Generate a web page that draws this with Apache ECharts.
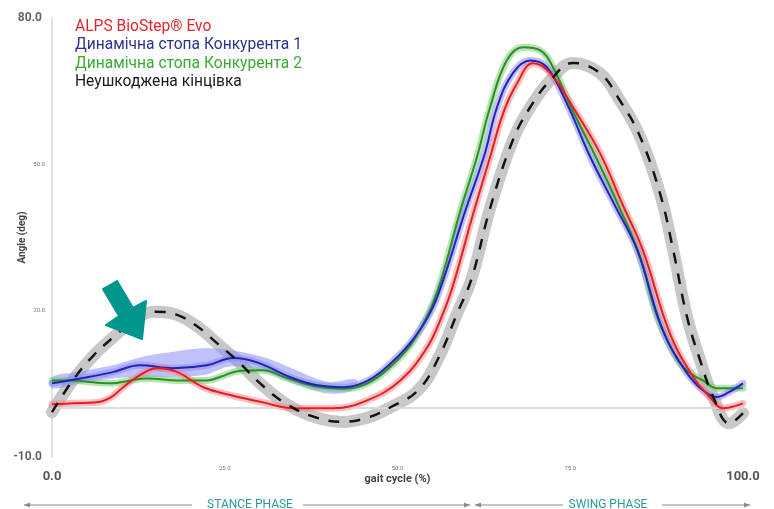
<!DOCTYPE html>
<html><head><meta charset="utf-8">
<script src="https://cdn.jsdelivr.net/npm/echarts@6/dist/echarts.min.js"></script>
<style>html,body{margin:0;padding:0;background:#fff}#c{width:774px;height:509px}</style>
</head><body><div id="c"></div>
<script>
// ---- data ----
const seriesNames = ['ALPS BioStep® Evo', 'Динамічна стопа Конкурента 1', 'Динамічна стопа Конкурента 2', 'Неушкоджена кінцівка'];
const xAxisName = 'gait cycle (%)';
const yAxisName = 'Angle (deg)';
const phaseLabels = ['STANCE PHASE', 'SWING PHASE'];

const alpsX = [0,3,6.5,8.5,10.3,12.5,15.2,18,21.9,25.8,30.5,35,40.7,45.6,50.4,54.3,56.6,58,60.9,63.4,65.3,67.3,69.6,72.1,75.4,79.3,82.5,85.5,89.4,92.8,95.2,97.1,100];
const alpsY = [0.8,1,1.2,2.2,4.3,6.6,8.2,7.5,4.3,2.7,1.2,0,0,1.6,5.7,12.5,19.5,25,39.6,51.5,60.5,66.6,70.7,68.7,61.7,52.3,42,32.4,15.4,6.4,2.3,0,1];

const comp1X = [0,4.1,8.8,12.7,17.5,22.4,26.2,29.7,34.4,38,42.1,45,47.9,51.8,54.7,56.6,59.7,62.6,64.4,66.7,69.2,71.6,74.5,77.9,81.3,84.7,88.4,91.9,94.2,96.2,97.7,100];
const comp1Y = [5.1,6.1,7.4,8.8,8.2,8.8,10.3,9.4,6.4,4.8,4.3,5.2,7.8,13.3,19.5,26.2,40,52,61.7,68.7,71.3,69.9,62.5,51.5,42,32.4,16,7.2,3.7,2.3,3.1,5.1];

const comp2X = [0,3,6,8.8,11,13.7,18.5,22.4,24.5,26.8,30.5,34,38,42,45,48,51.8,54.5,56.3,59,61.5,63.4,65.8,68.2,70.6,72.5,75,78.6,82,85,87.6,90.5,92.5,94.2,96.2,100];
const comp2Y = [5.7,5.7,5.3,5.1,5.6,6.1,5.7,5.7,6.5,7.6,7.8,6.2,4.5,4,4.7,7.3,12.8,19.5,26.2,40,51.5,61.7,71.3,74,73.4,69.9,62,51.8,41.5,31.5,18.7,10,7,5.7,4.1,4.1];

const intactX = [0,3,6,9.4,12,15,18,21,24,27,30.5,34,38,42,45.5,49,53,56,58.5,60.7,63.4,66.7,69.2,72.1,75.4,79.3,82,85,88,89.9,91.9,93.8,95.7,98,100];
const intactY = [-0.8,5.7,10.8,15.2,18.3,19.8,19.2,16.8,13.2,9.5,4.6,0.8,-1.8,-2.8,-2,0.2,3.7,10.5,19,26.5,41,55,61.7,67.2,70.8,68.7,63.5,56,44,32.4,18.7,9.8,2.3,-3.1,-1];

// spread band of competitor 1 during stance
const comp1BandX = [0,4,8.8,13,17,22,26,31,35,40,44];
const comp1BandLow = [4.1,5.0,6.1,6.4,6.4,6.8,8.6,7.4,5.0,3.0,3.9];
const comp1BandHigh = [6.4,7.5,8.8,10.5,11.5,12.3,11.9,10.3,8.0,5.4,5.9];

// ---- build ----
const pairs = (xs, ys) => xs.map((x, i) => [x, ys[i]]);
const cRed = '#e31e24', cBlue = '#2222b8', cGreen = '#2e8b2e', cBlack = '#141414';
const legendColors = ['#e0262b', '#2f3192', '#3aaa35', '#1a1a1a'];

function bandLine(name, xs, ys, color, width, z) {
  return { name, type: 'line', data: pairs(xs, ys), smooth: 0.4, showSymbol: false, silent: true,
    lineStyle: { color, width, cap: 'round', join: 'round' }, z };
}
function mainLine(name, xs, ys, color, width, z, type) {
  return { name, type: 'line', data: pairs(xs, ys), smooth: 0.4, showSymbol: false,
    itemStyle: { color }, lineStyle: { color, width, type: type || 'solid' }, z };
}

const chart = echarts.init(document.getElementById('c'), null, { renderer: 'canvas' });
const arrowHead = (x, y, dir) => ({ type: 'polygon', shape: { points: [[x, y], [x - dir * 6, y - 2.5], [x - dir * 6, y + 2.5]] }, style: { fill: '#8a8a8a' } });
const hLine = (x1, x2, y) => ({ type: 'line', shape: { x1, y1: y, x2, y2: y }, style: { stroke: '#8a8a8a', lineWidth: 1.2 } });
const PY = 505;

chart.setOption({
  animation: false,
  backgroundColor: '#fff',
  grid: { left: 52, right: 31, top: 18, bottom: 52, containLabel: false, outerBoundsMode: 'none' },
  legend: {
    left: 65, top: 13, orient: 'vertical', itemWidth: 0, itemHeight: 0, itemGap: 0,
    selectedMode: false,
    textStyle: { fontFamily: 'Roboto', fontSize: 15.6, lineHeight: 18.3 },
    data: seriesNames.map((n, i) => ({ name: n, icon: 'rect', textStyle: { color: legendColors[i] } }))
  },
  xAxis: {
    type: 'value', min: 0, max: 100, interval: 25,
    name: xAxisName, nameLocation: 'middle', nameGap: 17, nameMoveOverlap: false,
    nameTextStyle: { fontFamily: 'Roboto', fontSize: 11, color: '#444', fontWeight: 'bold' },
    axisLine: { show: true, lineStyle: { color: '#dcdcdc', width: 2 } },
    axisTick: { show: false }, splitLine: { show: false },
    axisLabel: {
      margin: 6,
      formatter: v => (v === 0 || v === 100) ? '{b|' + v.toFixed(1) + '}' : '{s|' + v.toFixed(1) + '}',
      rich: {
        b: { fontFamily: 'Roboto', fontSize: 13, fontWeight: 'bold', color: '#555', padding: [7, 0, 0, 0] },
        s: { fontFamily: 'Roboto', fontSize: 6, color: '#777', padding: [2, 0, 0, 0] }
      }
    }
  },
  yAxis: {
    type: 'value', min: -10, max: 80, interval: 30,
    name: yAxisName, nameLocation: 'middle', nameGap: 25, nameRotate: 90, nameMoveOverlap: false,
    nameTextStyle: { fontFamily: 'Roboto', fontSize: 10, color: '#444', fontWeight: 'bold' },
    axisLine: { show: true, lineStyle: { color: '#e2e2e2', width: 2 } },
    axisTick: { show: false }, splitLine: { show: false },
    axisLabel: {
      margin: 7,
      formatter: v => (v === 80 || v === -10) ? '{b|' + v.toFixed(1) + '}' : '{s|' + v.toFixed(1) + '}',
      rich: {
        b: { fontFamily: 'Roboto', fontSize: 12, fontWeight: 'bold', color: '#666', padding: [0, 3, 0, 0] },
        s: { fontFamily: 'Roboto', fontSize: 6, color: '#777' }
      }
    }
  },
  series: [
    bandLine('band-intact', intactX, intactY, '#c8c8c8', 12, 1),
    { name: 'band-c1-stance', type: 'custom', silent: true, z: 2,
      data: comp1BandX.map((x, i) => [x, comp1BandLow[i], comp1BandHigh[i]]),
      encode: { x: 0, y: [1, 2] },
      renderItem: (params, api) => {
        if (params.dataIndex !== 0) return;
        const upper = comp1BandX.map((x, i) => api.coord([x, comp1BandHigh[i]]));
        const lower = comp1BandX.map((x, i) => api.coord([x, comp1BandLow[i]])).reverse();
        return { type: 'polygon', shape: { points: upper.concat(lower), smooth: 0.35 },
          style: { fill: 'rgba(140,140,245,0.55)' } };
      }
    },
    bandLine('band-c2', comp2X, comp2Y, 'rgba(120,210,110,0.55)', 7, 2),
    bandLine('band-c1', comp1X, comp1Y, 'rgba(140,140,245,0.55)', 7, 2),
    bandLine('band-alps', alpsX, alpsY, 'rgba(245,130,130,0.5)', 7, 2),
    mainLine(seriesNames[2], comp2X, comp2Y, cGreen, 2, 3),
    mainLine(seriesNames[1], comp1X, comp1Y, cBlue, 2, 4),
    Object.assign(mainLine(seriesNames[0], alpsX, alpsY, cRed, 2, 5), {
      markLine: { silent: true, symbol: 'none', label: { show: false },
        lineStyle: { color: '#dddddd', width: 1.5, type: 'solid' }, data: [{ yAxis: 0 }] }
    }),
    mainLine(seriesNames[3], intactX, intactY, cBlack, 2.5, 6, [11, 10])
  ],
  graphic: [
    { type: 'polygon', z: 100,
      shape: { points: [[103, 289], [117, 281], [133, 308], [146, 301], [142, 339], [106, 325], [119, 316]] },
      style: { fill: '#00958d', stroke: '#00958d', lineWidth: 2, lineJoin: 'round' } },
    hLine(24, 192, PY), arrowHead(24, PY, -1),
    { type: 'text', style: { text: phaseLabels[0], x: 250, y: PY, align: 'center', verticalAlign: 'middle', fill: '#2b9a96', font: '12px Roboto' } },
    hLine(303, 470, PY), arrowHead(470, PY, 1),
    hLine(475, 563, PY), arrowHead(475, PY, -1),
    { type: 'text', style: { text: phaseLabels[1], x: 608, y: PY, align: 'center', verticalAlign: 'middle', fill: '#2b9a96', font: '12px Roboto' } },
    hLine(662, 750, PY), arrowHead(750, PY, 1)
  ]
});
</script></body></html>
